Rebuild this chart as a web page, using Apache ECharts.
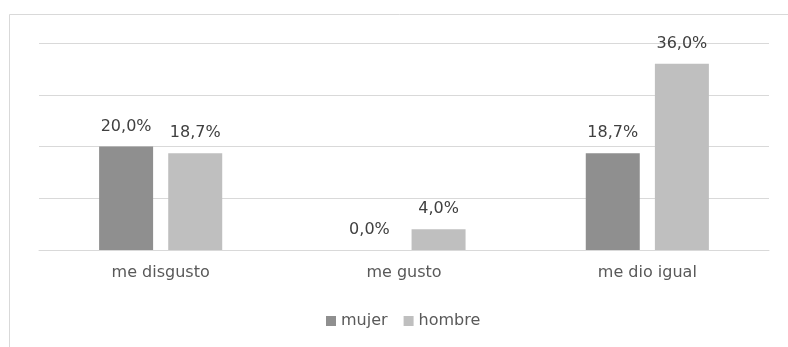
<!DOCTYPE html>
<html>
<head>
<meta charset="utf-8">
<script src="https://cdn.jsdelivr.net/npm/echarts@6/dist/echarts.min.js"></script>
<style>
  html, body { margin: 0; padding: 0; background: #fff; }
  #chart { width: 788px; height: 347px; }
</style>
</head>
<body>
<div id="chart"></div>
<script>
// Response categories and percentages per group
const categories = ['me disgusto', 'me gusto', 'me dio igual'];
const mujer = [20.0, 0.0, 18.7];
const hombre = [18.7, 4.0, 36.0];
const seriesNames = ['mujer', 'hombre'];

const fontFamily = "'Century Gothic', 'DejaVu Sans', sans-serif";
const fmt = p => p.value.toFixed(1).replace('.', ',') + '%';

const chart = echarts.init(document.getElementById('chart'), null, { renderer: 'canvas' });
chart.setOption({
  backgroundColor: '#fff',
  animation: false,
  graphic: [{
    type: 'rect',
    shape: { x: 9.5, y: 14.5, width: 790, height: 340 },
    style: { fill: 'none', stroke: '#d9d9d9', lineWidth: 1 },
    silent: true
  }],
  grid: { left: 39, right: 19, top: 43, bottom: 97 },
  legend: {
    top: 313,
    left: 326,
    padding: 0,
    itemWidth: 10,
    itemHeight: 10,
    itemGap: 16,
    icon: 'rect',
    textStyle: { color: '#595959', fontSize: 16, fontFamily },
    data: seriesNames
  },
  xAxis: {
    type: 'category',
    data: categories,
    axisLine: { lineStyle: { color: '#d9d9d9' } },
    axisTick: { show: false },
    axisLabel: { color: '#595959', fontSize: 16, fontFamily, margin: 15 }
  },
  yAxis: {
    type: 'value',
    min: 0,
    max: 40,
    interval: 10,
    axisLabel: { show: false },
    axisLine: { show: false },
    axisTick: { show: false },
    splitLine: { lineStyle: { color: '#d9d9d9', width: 1 } }
  },
  series: [
    {
      name: seriesNames[0],
      type: 'bar',
      data: mujer,
      barWidth: 54,
      barGap: '28%',
      itemStyle: { color: '#8f8f8f' },
      label: { show: true, position: 'top', distance: 12, formatter: fmt, color: '#404040', fontSize: 16, fontFamily }
    },
    {
      name: seriesNames[1],
      type: 'bar',
      data: hombre,
      barWidth: 54,
      itemStyle: { color: '#bfbfbf' },
      label: { show: true, position: 'top', distance: 12, formatter: fmt, color: '#404040', fontSize: 16, fontFamily }
    }
  ]
});
</script>
</body>
</html>
